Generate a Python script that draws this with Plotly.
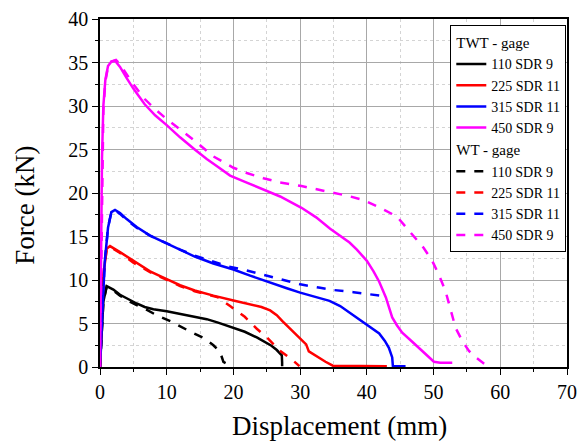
import plotly.graph_objects as go

labels = ["110 SDR 9", "225 SDR 11", "315 SDR 11", "450 SDR 9"]
colors = ["#000000", "#ff0000", "#0000ff", "#ff00ff"]

# TWT - gage (solid)
twt110_x = [0, 0.2, 0.5, 1.0, 2.0, 3.0, 4.2, 5.5, 6.7, 8.0, 10, 12, 14.2, 16, 17.7, 19.5, 21.7, 23.5, 24.7, 25.7, 26.5, 27.0, 27.25, 27.3, 27.3]
twt110_y = [0, 3.5, 7.5, 9.3, 8.9, 8.3, 7.8, 7.3, 6.9, 6.65, 6.4, 6.1, 5.8, 5.5, 5.1, 4.65, 4.05, 3.4, 2.9, 2.45, 1.95, 1.6, 1.35, 0.5, 0.1]

twt225_x = [0, 0.2, 0.5, 1.0, 1.5, 3, 5, 7.5, 10, 12, 14.2, 17, 20, 22, 24.2, 25.5, 26.5, 27.3, 28.2, 29.4, 30.2, 30.9, 31.3, 32.5, 33.8, 34.9, 38, 43]
twt225_y = [0, 5, 10.5, 13.6, 13.9, 13.2, 12.2, 11.0, 10.1, 9.4, 8.8, 8.2, 7.65, 7.3, 6.9, 6.5, 5.95, 5.3, 4.6, 3.75, 3.1, 2.6, 1.8, 1.2, 0.6, 0.15, 0.1, 0.1]

twt315_x = [0, 0.3, 0.7, 1.2, 1.7, 2.25, 3, 4, 5.5, 7.5, 10, 12, 14.2, 17, 20, 22.5, 25, 28, 30, 32.5, 34.4, 36, 37.4, 39, 40.5, 41.85, 42.7, 43.3, 43.8, 43.9, 44.5, 45.8]
twt315_y = [0, 6, 12, 16, 17.8, 18.05, 17.7, 17.0, 16.1, 15.1, 14.2, 13.4, 12.7, 11.9, 11.2, 10.5, 9.8, 9.05, 8.55, 8.0, 7.6, 7.0, 6.25, 5.4, 4.6, 3.85, 3.0, 2.2, 1.1, 0.1, 0.1, 0.1]

twt450_x = [0, 0.15, 0.3, 0.5, 0.8, 1.2, 1.7, 2.25, 3.0, 4.0, 5.0, 6.7, 8.3, 10, 12, 14.2, 16, 17.7, 19.5, 22, 24.5, 27, 30.2, 32.4, 34.5, 36, 37.4, 38.5, 40, 41, 41.85, 42.85, 43.8, 44.5, 45.3, 46.8, 48.3, 49.3, 50.05, 51, 52.8]
twt450_y = [0, 12, 24, 30, 33, 34.6, 35.1, 35.2, 34.5, 33.2, 32.0, 30.2, 28.9, 27.8, 26.4, 25.0, 23.9, 23.0, 22.0, 21.2, 20.4, 19.6, 18.3, 17.2, 15.9, 15.1, 14.3, 13.5, 12.2, 11.0, 9.8, 8.0, 5.7, 4.8, 3.95, 2.9, 1.85, 1.1, 0.6, 0.5, 0.5]

# WT - gage (dashed)
wt110_x = [0, 0.2, 0.5, 1.0, 2.0, 3.0, 4.2, 5.5, 6.7, 8.5, 10.75, 13.2, 15.7, 17.0, 18.0, 18.5, 19.25, 19.9]
wt110_y = [0, 3.5, 7.5, 9.2, 8.8, 8.2, 7.6, 7.1, 6.7, 5.95, 5.2, 4.2, 3.27, 2.5, 1.73, 0.58, 0.27, 0.1]

wt225_x = [0, 0.2, 0.5, 1.0, 1.5, 3, 5, 7.5, 10, 12, 14.2, 16, 17.7, 19.5, 21.7, 23.5, 25.2, 26.9, 28.0, 28.9, 29.9]
wt225_y = [0, 5, 10.5, 13.5, 13.8, 13.1, 12.0, 10.9, 10.0, 9.3, 8.7, 8.3, 8.0, 7.0, 5.77, 4.4, 3.27, 1.92, 1.3, 0.77, 0.1]

wt315_x = [0, 0.3, 0.7, 1.2, 1.7, 2.25, 3, 4, 5.5, 7.5, 10, 12, 14.2, 17, 19, 22, 25, 28, 30, 33, 35, 38, 40.9, 43]
wt315_y = [0, 6, 12, 16, 17.8, 18.0, 17.6, 16.9, 16.0, 15.1, 14.2, 13.5, 12.8, 12.1, 11.6, 11.1, 10.5, 9.9, 9.5, 9.1, 8.85, 8.6, 8.35, 8.1]

wt450_x = [0, 0.15, 0.3, 0.5, 0.8, 1.2, 1.7, 2.4, 3.0, 4.0, 5.0, 6.7, 8.3, 10, 12, 14.2, 17, 20, 22, 24.5, 27, 30.2, 34.5, 37, 39.5, 42, 44.5, 46.8, 48.5, 49.8, 50.8, 51.8, 52.6, 53.3, 54.3, 55.3, 56.5, 57.7, 58.4]
wt450_y = [0, 11, 23, 29.5, 32.8, 34.5, 35.1, 35.3, 34.8, 33.7, 32.5, 30.8, 29.6, 28.5, 27.3, 26.0, 24.2, 22.9, 22.3, 21.7, 21.2, 20.8, 20.1, 19.7, 19.2, 18.3, 17.3, 15.25, 13.7, 12.2, 10.6, 8.7, 6.6, 4.5, 3.0, 1.85, 1.0, 0.3, 0.1]

twt = [(twt110_x, twt110_y), (twt225_x, twt225_y), (twt315_x, twt315_y), (twt450_x, twt450_y)]
wt = [(wt110_x, wt110_y), (wt225_x, wt225_y), (wt315_x, wt315_y), (wt450_x, wt450_y)]

FONT = "Liberation Serif"

fig = go.Figure()
for i, (xs, ys) in enumerate(twt):
    fig.add_trace(go.Scatter(
        x=xs, y=ys, mode="lines", name=labels[i],
        line=dict(color=colors[i], width=2.5),
        legendgroup="twt", legendgrouptitle=dict(text="TWT - gage", font=dict(size=15, family=FONT, color="black")),
    ))
for i, (xs, ys) in enumerate(wt):
    fig.add_trace(go.Scatter(
        x=xs, y=ys, mode="lines", name=labels[i],
        line=dict(color=colors[i], width=2.5, dash="dash"),
        legendgroup="wt", legendgrouptitle=dict(text="WT - gage", font=dict(size=15, family=FONT, color="black")),
    ))

axis_common = dict(
    showline=True, linecolor="black", linewidth=1.5, mirror=True,
    ticks="outside", ticklen=6, tickwidth=1.2, tickcolor="black",
    showgrid=True, gridcolor="#a8a8a8", gridwidth=1,
    tickfont=dict(family=FONT, size=20, color="black"),
    zeroline=False, automargin=False,
)

fig.update_xaxes(
    range=[0, 70], dtick=10, tick0=0,
    minor=dict(dtick=5, ticks="outside", ticklen=3, tickcolor="black", showgrid=True,
               gridcolor="#d4d4d4", griddash="dot", gridwidth=1),
    **axis_common,
)
fig.update_yaxes(
    range=[0, 40], dtick=5, tick0=0,
    minor=dict(dtick=2.5, ticks="outside", ticklen=3, tickcolor="black", showgrid=True,
               gridcolor="#d4d4d4", griddash="dot", gridwidth=1),
    **axis_common,
)

fig.add_annotation(text="Displacement (mm)", xref="paper", yref="paper", x=0.512, y=-0.17,
                   xanchor="center", yanchor="middle", showarrow=False,
                   font=dict(family=FONT, size=27, color="black"))
fig.add_annotation(text="Force (kN)", xref="paper", yref="paper", x=-0.161, y=0.4655,
                   xanchor="center", yanchor="middle", showarrow=False, textangle=-90,
                   font=dict(family=FONT, size=27, color="black"))

fig.update_layout(
    width=579, height=441,
    margin=dict(l=100, r=12, t=19, b=74),
    paper_bgcolor="white", plot_bgcolor="white",
    font=dict(family=FONT, color="black"),
    legend=dict(
        x=0.9985, y=0.983, xanchor="right", yanchor="top",
        bgcolor="white", bordercolor="black", borderwidth=1,
        font=dict(family=FONT, size=14, color="black"),
        tracegroupgap=0, itemwidth=30,
    ),
    showlegend=True,
)

fig.write_html("out.html")
